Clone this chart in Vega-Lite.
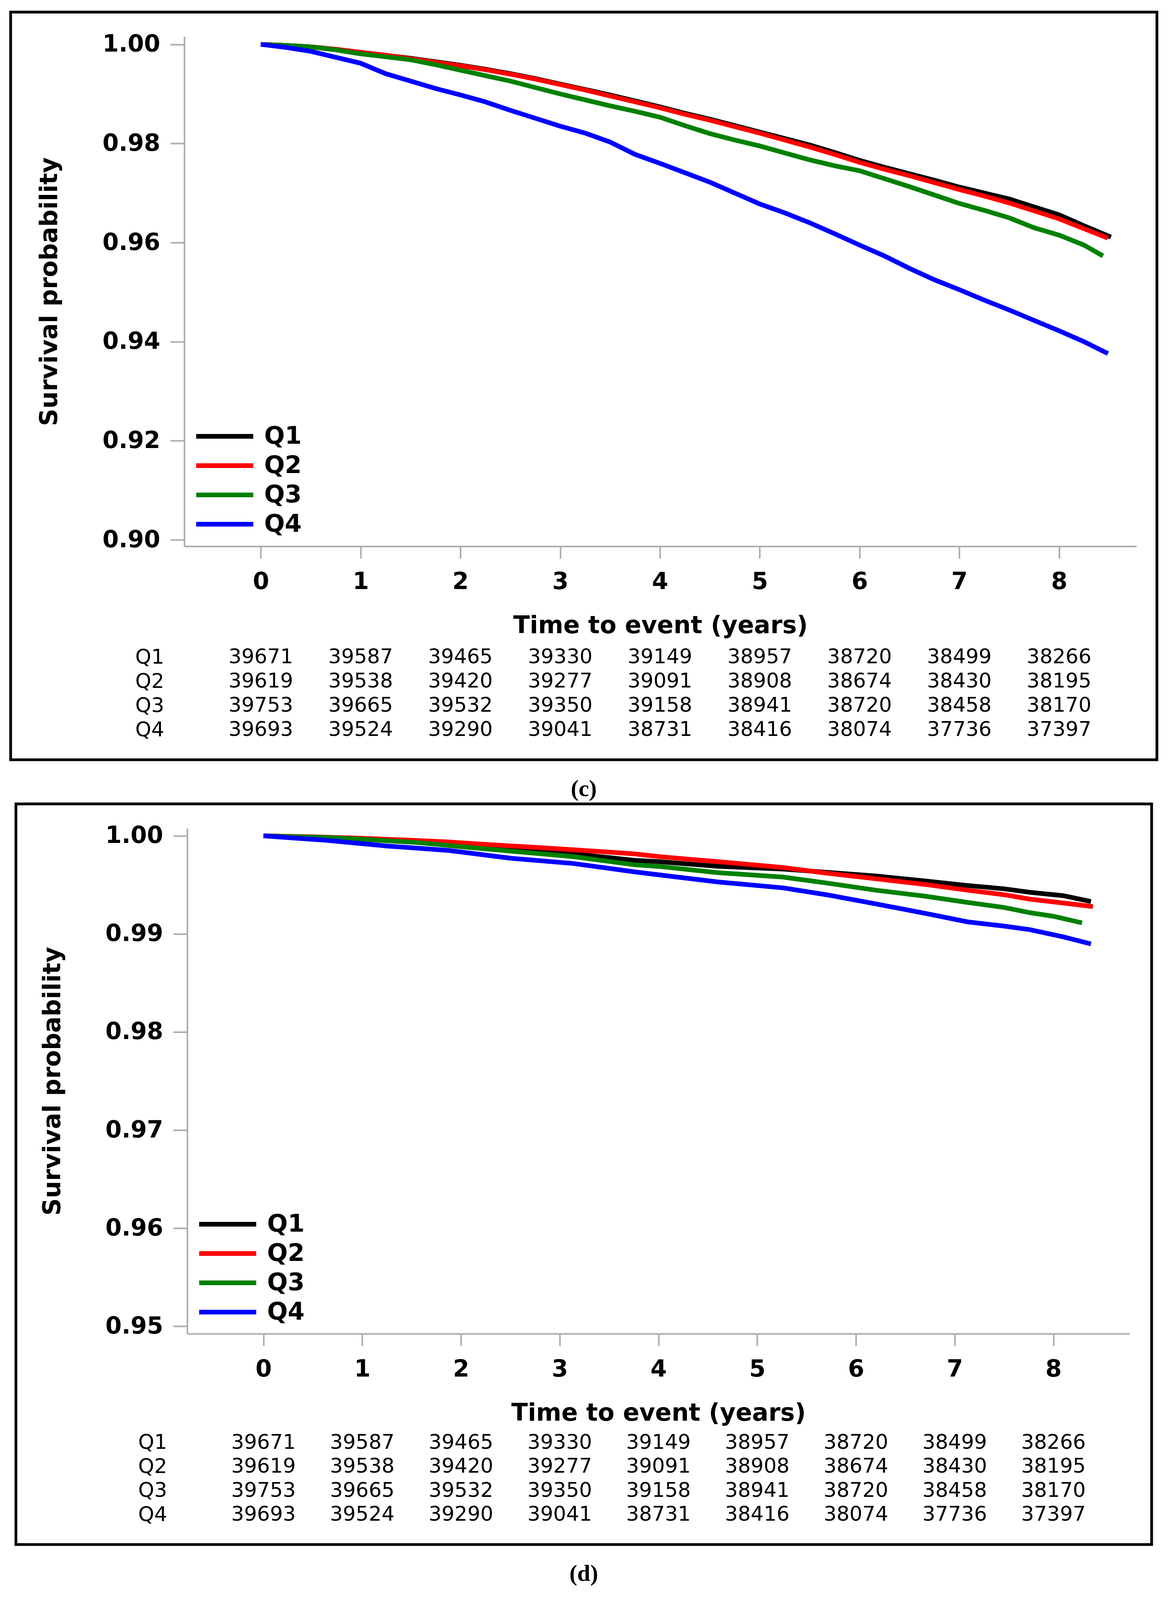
{
  "$schema": "https://vega.github.io/schema/vega-lite/v6.json",
  "background": "white",
  "padding": {"left": 23, "top": 27, "right": 0, "bottom": 0},
  "config": {
    "view": {"stroke": "black", "strokeWidth": 7},
    "font": "DejaVu Sans",
    "axis": {"labelFont": "DejaVu Sans", "titleFont": "DejaVu Sans", "labelColor": "black", "titleColor": "black", "grid": false},
    "legend": {"labelFont": "DejaVu Sans"}
  },
  "datasets": {
    "curves_c": [
      {"group": "Q1", "t": 0, "s": 1.0}, {"group": "Q1", "t": 0.25, "s": 0.9998}, {"group": "Q1", "t": 0.5, "s": 0.9995}, {"group": "Q1", "t": 0.75, "s": 0.999}, {"group": "Q1", "t": 1.0, "s": 0.9984}, {"group": "Q1", "t": 1.25, "s": 0.9978}, {"group": "Q1", "t": 1.5, "s": 0.9972}, {"group": "Q1", "t": 1.75, "s": 0.9965}, {"group": "Q1", "t": 2.0, "s": 0.9958}, {"group": "Q1", "t": 2.25, "s": 0.995}, {"group": "Q1", "t": 2.5, "s": 0.9941}, {"group": "Q1", "t": 2.75, "s": 0.9931}, {"group": "Q1", "t": 3.0, "s": 0.992}, {"group": "Q1", "t": 3.25, "s": 0.9909}, {"group": "Q1", "t": 3.5, "s": 0.9898}, {"group": "Q1", "t": 3.75, "s": 0.9886}, {"group": "Q1", "t": 4.0, "s": 0.9874}, {"group": "Q1", "t": 4.25, "s": 0.9861}, {"group": "Q1", "t": 4.5, "s": 0.9849}, {"group": "Q1", "t": 4.75, "s": 0.9836}, {"group": "Q1", "t": 5.0, "s": 0.9823}, {"group": "Q1", "t": 5.25, "s": 0.981}, {"group": "Q1", "t": 5.5, "s": 0.9797}, {"group": "Q1", "t": 5.75, "s": 0.9782}, {"group": "Q1", "t": 6.0, "s": 0.9766}, {"group": "Q1", "t": 6.25, "s": 0.9752}, {"group": "Q1", "t": 6.5, "s": 0.9739}, {"group": "Q1", "t": 6.75, "s": 0.9726}, {"group": "Q1", "t": 7.0, "s": 0.9712}, {"group": "Q1", "t": 7.25, "s": 0.97}, {"group": "Q1", "t": 7.5, "s": 0.9688}, {"group": "Q1", "t": 7.75, "s": 0.9672}, {"group": "Q1", "t": 8.0, "s": 0.9656}, {"group": "Q1", "t": 8.25, "s": 0.9634}, {"group": "Q1", "t": 8.52, "s": 0.9611},
      {"group": "Q2", "t": 0, "s": 1.0}, {"group": "Q2", "t": 0.25, "s": 0.9998}, {"group": "Q2", "t": 0.5, "s": 0.9995}, {"group": "Q2", "t": 0.75, "s": 0.999}, {"group": "Q2", "t": 1.0, "s": 0.9984}, {"group": "Q2", "t": 1.25, "s": 0.9978}, {"group": "Q2", "t": 1.5, "s": 0.9971}, {"group": "Q2", "t": 1.75, "s": 0.9964}, {"group": "Q2", "t": 2.0, "s": 0.9957}, {"group": "Q2", "t": 2.25, "s": 0.9949}, {"group": "Q2", "t": 2.5, "s": 0.994}, {"group": "Q2", "t": 2.75, "s": 0.993}, {"group": "Q2", "t": 3.0, "s": 0.9919}, {"group": "Q2", "t": 3.25, "s": 0.9908}, {"group": "Q2", "t": 3.5, "s": 0.9896}, {"group": "Q2", "t": 3.75, "s": 0.9884}, {"group": "Q2", "t": 4.0, "s": 0.9872}, {"group": "Q2", "t": 4.25, "s": 0.9859}, {"group": "Q2", "t": 4.5, "s": 0.9847}, {"group": "Q2", "t": 4.75, "s": 0.9834}, {"group": "Q2", "t": 5.0, "s": 0.9821}, {"group": "Q2", "t": 5.25, "s": 0.9807}, {"group": "Q2", "t": 5.5, "s": 0.9793}, {"group": "Q2", "t": 5.75, "s": 0.9778}, {"group": "Q2", "t": 6.0, "s": 0.9762}, {"group": "Q2", "t": 6.25, "s": 0.9748}, {"group": "Q2", "t": 6.5, "s": 0.9735}, {"group": "Q2", "t": 6.75, "s": 0.9721}, {"group": "Q2", "t": 7.0, "s": 0.9707}, {"group": "Q2", "t": 7.25, "s": 0.9694}, {"group": "Q2", "t": 7.5, "s": 0.968}, {"group": "Q2", "t": 7.75, "s": 0.9664}, {"group": "Q2", "t": 8.0, "s": 0.9648}, {"group": "Q2", "t": 8.25, "s": 0.9628}, {"group": "Q2", "t": 8.49, "s": 0.9609},
      {"group": "Q3", "t": 0, "s": 1.0}, {"group": "Q3", "t": 0.25, "s": 0.9998}, {"group": "Q3", "t": 0.5, "s": 0.9995}, {"group": "Q3", "t": 0.75, "s": 0.9989}, {"group": "Q3", "t": 1.0, "s": 0.9981}, {"group": "Q3", "t": 1.25, "s": 0.9975}, {"group": "Q3", "t": 1.5, "s": 0.9969}, {"group": "Q3", "t": 1.75, "s": 0.9959}, {"group": "Q3", "t": 2.0, "s": 0.9948}, {"group": "Q3", "t": 2.25, "s": 0.9937}, {"group": "Q3", "t": 2.5, "s": 0.9926}, {"group": "Q3", "t": 2.75, "s": 0.9913}, {"group": "Q3", "t": 3.0, "s": 0.99}, {"group": "Q3", "t": 3.25, "s": 0.9888}, {"group": "Q3", "t": 3.5, "s": 0.9876}, {"group": "Q3", "t": 3.75, "s": 0.9865}, {"group": "Q3", "t": 4.0, "s": 0.9853}, {"group": "Q3", "t": 4.25, "s": 0.9836}, {"group": "Q3", "t": 4.5, "s": 0.982}, {"group": "Q3", "t": 4.75, "s": 0.9807}, {"group": "Q3", "t": 5.0, "s": 0.9795}, {"group": "Q3", "t": 5.25, "s": 0.9781}, {"group": "Q3", "t": 5.5, "s": 0.9767}, {"group": "Q3", "t": 5.75, "s": 0.9755}, {"group": "Q3", "t": 6.0, "s": 0.9745}, {"group": "Q3", "t": 6.25, "s": 0.9729}, {"group": "Q3", "t": 6.5, "s": 0.9713}, {"group": "Q3", "t": 6.75, "s": 0.9696}, {"group": "Q3", "t": 7.0, "s": 0.9679}, {"group": "Q3", "t": 7.25, "s": 0.9665}, {"group": "Q3", "t": 7.5, "s": 0.965}, {"group": "Q3", "t": 7.75, "s": 0.963}, {"group": "Q3", "t": 8.0, "s": 0.9615}, {"group": "Q3", "t": 8.25, "s": 0.9595}, {"group": "Q3", "t": 8.44, "s": 0.9573},
      {"group": "Q4", "t": 0, "s": 1.0}, {"group": "Q4", "t": 0.25, "s": 0.9994}, {"group": "Q4", "t": 0.5, "s": 0.9986}, {"group": "Q4", "t": 0.75, "s": 0.9974}, {"group": "Q4", "t": 1.0, "s": 0.9962}, {"group": "Q4", "t": 1.25, "s": 0.9941}, {"group": "Q4", "t": 1.5, "s": 0.9926}, {"group": "Q4", "t": 1.75, "s": 0.9911}, {"group": "Q4", "t": 2.0, "s": 0.9898}, {"group": "Q4", "t": 2.25, "s": 0.9884}, {"group": "Q4", "t": 2.5, "s": 0.9867}, {"group": "Q4", "t": 2.75, "s": 0.9851}, {"group": "Q4", "t": 3.0, "s": 0.9835}, {"group": "Q4", "t": 3.25, "s": 0.9821}, {"group": "Q4", "t": 3.5, "s": 0.9803}, {"group": "Q4", "t": 3.75, "s": 0.9778}, {"group": "Q4", "t": 4.0, "s": 0.976}, {"group": "Q4", "t": 4.25, "s": 0.9741}, {"group": "Q4", "t": 4.5, "s": 0.9722}, {"group": "Q4", "t": 4.75, "s": 0.97}, {"group": "Q4", "t": 5.0, "s": 0.9678}, {"group": "Q4", "t": 5.25, "s": 0.966}, {"group": "Q4", "t": 5.5, "s": 0.964}, {"group": "Q4", "t": 5.75, "s": 0.9618}, {"group": "Q4", "t": 6.0, "s": 0.9595}, {"group": "Q4", "t": 6.25, "s": 0.9573}, {"group": "Q4", "t": 6.5, "s": 0.9548}, {"group": "Q4", "t": 6.75, "s": 0.9525}, {"group": "Q4", "t": 7.0, "s": 0.9505}, {"group": "Q4", "t": 7.25, "s": 0.9484}, {"group": "Q4", "t": 7.5, "s": 0.9464}, {"group": "Q4", "t": 7.75, "s": 0.9443}, {"group": "Q4", "t": 8.0, "s": 0.9422}, {"group": "Q4", "t": 8.25, "s": 0.94}, {"group": "Q4", "t": 8.49, "s": 0.9376}
    ],
    "curves_d": [
      {"group": "Q1", "t": 0, "s": 1.0}, {"group": "Q1", "t": 0.5, "s": 0.99985}, {"group": "Q1", "t": 1.0, "s": 0.99965}, {"group": "Q1", "t": 1.5, "s": 0.99945}, {"group": "Q1", "t": 2.0, "s": 0.99915}, {"group": "Q1", "t": 2.5, "s": 0.9988}, {"group": "Q1", "t": 2.82, "s": 0.99845}, {"group": "Q1", "t": 3.25, "s": 0.99805}, {"group": "Q1", "t": 3.76, "s": 0.9975}, {"group": "Q1", "t": 4.0, "s": 0.99737}, {"group": "Q1", "t": 4.6, "s": 0.9969}, {"group": "Q1", "t": 5.26, "s": 0.99662}, {"group": "Q1", "t": 5.75, "s": 0.99625}, {"group": "Q1", "t": 6.2, "s": 0.99591}, {"group": "Q1", "t": 6.7, "s": 0.9954}, {"group": "Q1", "t": 7.13, "s": 0.99494}, {"group": "Q1", "t": 7.5, "s": 0.9946}, {"group": "Q1", "t": 7.76, "s": 0.99425}, {"group": "Q1", "t": 8.1, "s": 0.9939}, {"group": "Q1", "t": 8.38, "s": 0.99331},
      {"group": "Q2", "t": 0, "s": 1.0}, {"group": "Q2", "t": 0.5, "s": 0.9999}, {"group": "Q2", "t": 1.0, "s": 0.99975}, {"group": "Q2", "t": 1.5, "s": 0.99955}, {"group": "Q2", "t": 1.88, "s": 0.99938}, {"group": "Q2", "t": 2.3, "s": 0.9991}, {"group": "Q2", "t": 2.82, "s": 0.99879}, {"group": "Q2", "t": 3.3, "s": 0.99848}, {"group": "Q2", "t": 3.76, "s": 0.99816}, {"group": "Q2", "t": 4.01, "s": 0.99788}, {"group": "Q2", "t": 4.6, "s": 0.99737}, {"group": "Q2", "t": 5.26, "s": 0.99678}, {"group": "Q2", "t": 5.7, "s": 0.9962}, {"group": "Q2", "t": 6.2, "s": 0.99563}, {"group": "Q2", "t": 6.7, "s": 0.99505}, {"group": "Q2", "t": 7.13, "s": 0.99446}, {"group": "Q2", "t": 7.5, "s": 0.994}, {"group": "Q2", "t": 7.76, "s": 0.99355}, {"group": "Q2", "t": 8.1, "s": 0.99315}, {"group": "Q2", "t": 8.4, "s": 0.99279},
      {"group": "Q3", "t": 0, "s": 1.0}, {"group": "Q3", "t": 0.63, "s": 0.99983}, {"group": "Q3", "t": 1.0, "s": 0.99965}, {"group": "Q3", "t": 1.57, "s": 0.99931}, {"group": "Q3", "t": 2.0, "s": 0.9989}, {"group": "Q3", "t": 2.51, "s": 0.99844}, {"group": "Q3", "t": 3.13, "s": 0.99789}, {"group": "Q3", "t": 3.76, "s": 0.99705}, {"group": "Q3", "t": 4.01, "s": 0.99688}, {"group": "Q3", "t": 4.6, "s": 0.99625}, {"group": "Q3", "t": 5.26, "s": 0.9958}, {"group": "Q3", "t": 5.7, "s": 0.9952}, {"group": "Q3", "t": 6.2, "s": 0.99446}, {"group": "Q3", "t": 6.7, "s": 0.99385}, {"group": "Q3", "t": 7.13, "s": 0.99321}, {"group": "Q3", "t": 7.5, "s": 0.9927}, {"group": "Q3", "t": 7.76, "s": 0.99217}, {"group": "Q3", "t": 8.0, "s": 0.9918}, {"group": "Q3", "t": 8.29, "s": 0.99113},
      {"group": "Q4", "t": 0, "s": 1.0}, {"group": "Q4", "t": 0.63, "s": 0.99955}, {"group": "Q4", "t": 1.26, "s": 0.99896}, {"group": "Q4", "t": 1.88, "s": 0.99851}, {"group": "Q4", "t": 2.51, "s": 0.99771}, {"group": "Q4", "t": 3.13, "s": 0.99719}, {"group": "Q4", "t": 3.76, "s": 0.99633}, {"group": "Q4", "t": 4.01, "s": 0.99602}, {"group": "Q4", "t": 4.6, "s": 0.9953}, {"group": "Q4", "t": 5.26, "s": 0.9947}, {"group": "Q4", "t": 5.7, "s": 0.994}, {"group": "Q4", "t": 6.2, "s": 0.99307}, {"group": "Q4", "t": 6.7, "s": 0.9921}, {"group": "Q4", "t": 7.13, "s": 0.99123}, {"group": "Q4", "t": 7.5, "s": 0.9908}, {"group": "Q4", "t": 7.76, "s": 0.99044}, {"group": "Q4", "t": 8.1, "s": 0.9897}, {"group": "Q4", "t": 8.38, "s": 0.98898}
    ],
    "risk": [
      {"group": "Q1", "t": 0, "n": 39671}, {"group": "Q1", "t": 1, "n": 39587}, {"group": "Q1", "t": 2, "n": 39465}, {"group": "Q1", "t": 3, "n": 39330}, {"group": "Q1", "t": 4, "n": 39149}, {"group": "Q1", "t": 5, "n": 38957}, {"group": "Q1", "t": 6, "n": 38720}, {"group": "Q1", "t": 7, "n": 38499}, {"group": "Q1", "t": 8, "n": 38266},
      {"group": "Q2", "t": 0, "n": 39619}, {"group": "Q2", "t": 1, "n": 39538}, {"group": "Q2", "t": 2, "n": 39420}, {"group": "Q2", "t": 3, "n": 39277}, {"group": "Q2", "t": 4, "n": 39091}, {"group": "Q2", "t": 5, "n": 38908}, {"group": "Q2", "t": 6, "n": 38674}, {"group": "Q2", "t": 7, "n": 38430}, {"group": "Q2", "t": 8, "n": 38195},
      {"group": "Q3", "t": 0, "n": 39753}, {"group": "Q3", "t": 1, "n": 39665}, {"group": "Q3", "t": 2, "n": 39532}, {"group": "Q3", "t": 3, "n": 39350}, {"group": "Q3", "t": 4, "n": 39158}, {"group": "Q3", "t": 5, "n": 38941}, {"group": "Q3", "t": 6, "n": 38720}, {"group": "Q3", "t": 7, "n": 38458}, {"group": "Q3", "t": 8, "n": 38170},
      {"group": "Q4", "t": 0, "n": 39693}, {"group": "Q4", "t": 1, "n": 39524}, {"group": "Q4", "t": 2, "n": 39290}, {"group": "Q4", "t": 3, "n": 39041}, {"group": "Q4", "t": 4, "n": 38731}, {"group": "Q4", "t": 5, "n": 38416}, {"group": "Q4", "t": 6, "n": 38074}, {"group": "Q4", "t": 7, "n": 37736}, {"group": "Q4", "t": 8, "n": 37397}
    ]
  },
  "spacing": 0,
  "center": true,
  "resolve": {"scale": {"color": "independent"}, "legend": {"color": "independent"}},
  "vconcat": [
    {
      "width": 2934,
      "height": 1914,
      "title": {"text": "(c)", "orient": "bottom", "anchor": "middle", "font": "Liberation Serif", "fontSize": 60, "fontWeight": "bold", "color": "black", "offset": 46},
      "layer": [
        {
          "data": {"name": "curves_c"},
          "mark": {"type": "line", "strokeWidth": 12},
          "encoding": {
            "x": {
              "field": "t", "type": "quantitative",
              "scale": {"domain": [-0.767, 8.775], "range": [444.5, 2881.5], "nice": false, "zero": false},
              "axis": {"orient": "bottom", "offset": -546.4, "values": [0, 1, 2, 3, 4, 5, 6, 7, 8], "format": "d", "title": "Time to event (years)",
                "domainColor": "#a9adb2", "domainWidth": 4, "tickColor": "#a9adb2", "tickWidth": 4, "tickSize": 31,
                "labelFontSize": 60, "labelFontWeight": "bold", "labelPadding": 31, "labelFlush": false,
                "titleFontSize": 62, "titleFontWeight": "bold", "titlePadding": 52}
            },
            "y": {
              "field": "s", "type": "quantitative",
              "scale": {"domain": [0.8987, 1.00158], "range": [1367.6, 62.6], "nice": false, "zero": false},
              "axis": {"orient": "left", "offset": -444.5, "values": [0.9, 0.92, 0.94, 0.96, 0.98, 1.0], "format": ".2f", "title": "Survival probability",
                "domainColor": "#a9adb2", "domainWidth": 4, "tickColor": "#a9adb2", "tickWidth": 4, "tickSize": 36,
                "labelFontSize": 60, "labelFontWeight": "bold", "labelPadding": 26, "labelFlush": false,
                "titleFontSize": 62, "titleFontWeight": "bold", "titleX": -345, "titleBaseline": "middle"}
            },
            "color": {
              "field": "group", "type": "nominal",
              "scale": {"domain": ["Q1", "Q2", "Q3", "Q4"], "range": ["#000000", "#ff0000", "#008000", "#0000ff"]},
              "legend": {"orient": "none", "legendX": 474.5, "legendY": 1055, "title": null, "padding": 0,
                "symbolType": "M-3,0H3", "symbolSize": 2370, "symbolStrokeWidth": 12, "symbolOffset": 42.5,
                "labelOffset": 70, "labelFontSize": 62, "labelFontWeight": "bold", "labelColor": "black", "rowPadding": 13}
            }
          }
        },
        {
          "data": {"name": "risk"},
          "mark": {"type": "text", "fontSize": 52, "font": "DejaVu Sans", "color": "black"},
          "encoding": {
            "x": {
              "field": "t", "type": "quantitative",
              "scale": {"domain": [-0.767, 8.775], "range": [444.5, 2881.5], "nice": false, "zero": false},
              "axis": {"orient": "bottom", "offset": -546.4, "values": [0, 1, 2, 3, 4, 5, 6, 7, 8], "format": "d", "title": "Time to event (years)",
                "domainColor": "#a9adb2", "domainWidth": 4, "tickColor": "#a9adb2", "tickWidth": 4, "tickSize": 31,
                "labelFontSize": 60, "labelFontWeight": "bold", "labelPadding": 31, "labelFlush": false,
                "titleFontSize": 62, "titleFontWeight": "bold", "titlePadding": 52}
            },
            "y": {
              "field": "group", "type": "nominal",
              "scale": {"type": "point", "domain": ["Q1", "Q2", "Q3", "Q4"], "range": [1651.2, 1837.4], "padding": 0},
              "axis": {"orient": "left", "offset": -392.5, "domain": false, "ticks": false, "tickSize": 0, "labelPadding": 0, "labelFontSize": 52, "labelFontWeight": "normal", "title": null}
            },
            "text": {"field": "n", "type": "nominal"}
          }
        }
      ],
      "resolve": {"scale": {"y": "independent"}, "axis": {"y": "independent"}}
    },
    {
      "width": 2907,
      "height": 1896,
      "title": {"text": "(d)", "orient": "bottom", "anchor": "middle", "font": "Liberation Serif", "fontSize": 60, "fontWeight": "bold", "color": "black", "offset": 46},
      "layer": [
        {
          "data": {"name": "curves_d"},
          "mark": {"type": "line", "strokeWidth": 12},
          "encoding": {
            "x": {
              "field": "t", "type": "quantitative",
              "scale": {"domain": [-0.772, 8.771], "range": [438.5, 2850.5], "nice": false, "zero": false},
              "axis": {"orient": "bottom", "offset": -539.7, "values": [0, 1, 2, 3, 4, 5, 6, 7, 8], "format": "d", "title": "Time to event (years)",
                "domainColor": "#a9adb2", "domainWidth": 4, "tickColor": "#a9adb2", "tickWidth": 4, "tickSize": 31,
                "labelFontSize": 60, "labelFontWeight": "bold", "labelPadding": 31, "labelFlush": false,
                "titleFontSize": 62, "titleFontWeight": "bold", "titlePadding": 52}
            },
            "y": {
              "field": "s", "type": "quantitative",
              "scale": {"domain": [0.94924, 1.000765], "range": [1356.3, 62.6], "nice": false, "zero": false},
              "axis": {"orient": "left", "offset": -438.5, "values": [0.95, 0.96, 0.97, 0.98, 0.99, 1.0], "format": ".2f", "title": "Survival probability",
                "domainColor": "#a9adb2", "domainWidth": 4, "tickColor": "#a9adb2", "tickWidth": 4, "tickSize": 36,
                "labelFontSize": 60, "labelFontWeight": "bold", "labelPadding": 26, "labelFlush": false,
                "titleFontSize": 62, "titleFontWeight": "bold", "titleX": -345, "titleBaseline": "middle"}
            },
            "color": {
              "field": "group", "type": "nominal",
              "scale": {"domain": ["Q1", "Q2", "Q3", "Q4"], "range": ["#000000", "#ff0000", "#008000", "#0000ff"]},
              "legend": {"orient": "none", "legendX": 468.5, "legendY": 1045, "title": null, "padding": 0,
                "symbolType": "M-3,0H3", "symbolSize": 2370, "symbolStrokeWidth": 12, "symbolOffset": 42.5,
                "labelOffset": 70, "labelFontSize": 62, "labelFontWeight": "bold", "labelColor": "black", "rowPadding": 13}
            }
          }
        },
        {
          "data": {"name": "risk"},
          "mark": {"type": "text", "fontSize": 52, "font": "DejaVu Sans", "color": "black"},
          "encoding": {
            "x": {
              "field": "t", "type": "quantitative",
              "scale": {"domain": [-0.772, 8.771], "range": [438.5, 2850.5], "nice": false, "zero": false},
              "axis": {"orient": "bottom", "offset": -539.7, "values": [0, 1, 2, 3, 4, 5, 6, 7, 8], "format": "d", "title": "Time to event (years)",
                "domainColor": "#a9adb2", "domainWidth": 4, "tickColor": "#a9adb2", "tickWidth": 4, "tickSize": 31,
                "labelFontSize": 60, "labelFontWeight": "bold", "labelPadding": 31, "labelFlush": false,
                "titleFontSize": 62, "titleFontWeight": "bold", "titlePadding": 52}
            },
            "y": {
              "field": "group", "type": "nominal",
              "scale": {"type": "point", "domain": ["Q1", "Q2", "Q3", "Q4"], "range": [1634.8, 1819.2], "padding": 0},
              "axis": {"orient": "left", "offset": -386.5, "domain": false, "ticks": false, "tickSize": 0, "labelPadding": 0, "labelFontSize": 52, "labelFontWeight": "normal", "title": null}
            },
            "text": {"field": "n", "type": "nominal"}
          }
        }
      ],
      "resolve": {"scale": {"y": "independent"}, "axis": {"y": "independent"}}
    }
  ]
}
